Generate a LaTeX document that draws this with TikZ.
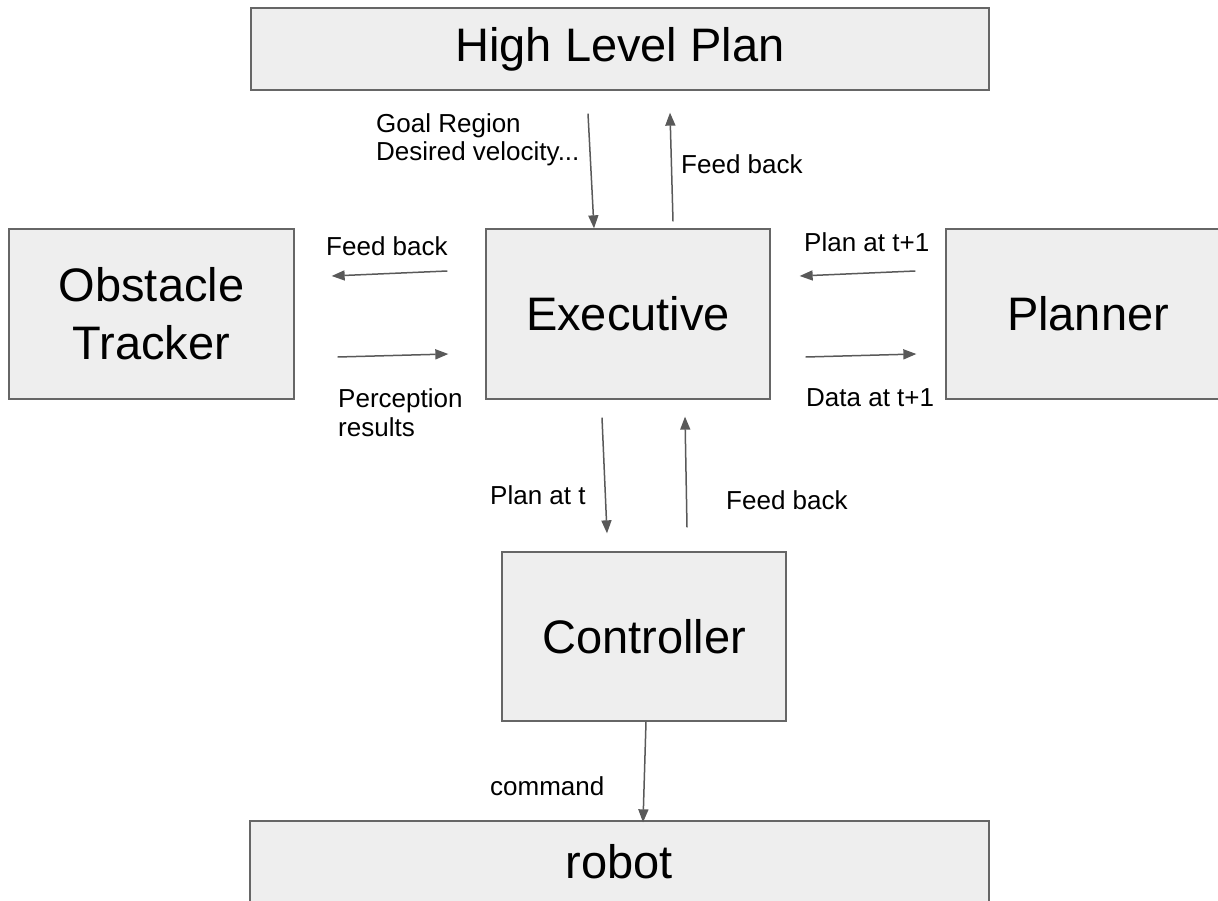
\documentclass[tikz,border=0pt]{standalone}
\usepackage{fontspec}
\setmainfont{Liberation Sans}
\usetikzlibrary{arrows.meta,calc}
\definecolor{boxfill}{HTML}{EEEEEE}
\definecolor{boxline}{HTML}{666666}
\definecolor{arrowline}{HTML}{595959}
\tikzset{
  block/.style={draw=boxline, fill=boxfill, line width=1.3pt, inner sep=0pt,
                align=center, font=\fontsize{47}{58}\selectfont},
  flow/.style={draw=arrowline, line width=1.5pt, -{Triangle[length=13pt,width=10pt]}},
  lbl/.style={anchor=base west, inner sep=0pt, align=left,
              font=\fontsize{26}{28.5}\selectfont},
}
\begin{document}
\begin{tikzpicture}[x=1pt,y=-1pt]
\useasboundingbox (0,0) rectangle (1218,901);
\clip (0,0) rectangle (1218,901);

% blocks
\node[block, minimum width=738pt, minimum height=82pt]  (hlp)   at (620,49)    {High Level Plan};
\node[block, minimum width=285pt, minimum height=170pt] (obst)  at (151.5,314) {Obstacle\\Tracker};
\node[block, minimum width=284pt, minimum height=170pt] (exec)  at (628,314)   {Executive};
\node[block, minimum width=284pt, minimum height=170pt] (plan)  at (1088,314)  {Planner};
\node[block, minimum width=284pt, minimum height=169pt] (ctrl)  at (644,636.5) {Controller};
\node[block, minimum width=739pt, minimum height=82pt]  (robot) at (619.5,862)  {robot};

% connectors
\draw[flow] ($(hlp.south)+(-32,23)$)  -- ($(exec.north)+(-34,0)$);
\draw[flow] ($(exec.north)+(45,-7)$)  -- ($(hlp.south)+(50,22)$);
\draw[flow] ($(exec.west)+(-38,-43)$) -- ($(obst.east)+(37,-38)$);
\draw[flow] ($(obst.east)+(43,43)$)   -- ($(exec.west)+(-37,40)$);
\draw[flow] ($(plan.west)+(-30,-43)$) -- ($(exec.east)+(29,-38)$);
\draw[flow] ($(exec.east)+(35,43)$)   -- ($(plan.west)+(-29,40)$);
\draw[flow] ($(exec.south)+(-26,18)$) -- ($(ctrl.north)+(-37,-18)$);
\draw[flow] ($(ctrl.north)+(43,-24)$) -- ($(exec.south)+(57,17)$);
\draw[flow] ($(ctrl.south)+(2,0)$)    -- ($(robot.north)+(23.5,2)$);

% labels (base anchor of a two-line label sits on its last line)
\node[lbl] (lgoal) at (376,161) {Goal Region\\Desired velocity...};
\node[lbl] (lfbh)  at (681,174) {Feed back};
\node[lbl] (lfbo)  at (326,256) {Feed back};
\node[lbl] (lperc) at (338,436) {Perception\\results};
\node[lbl] (lpt1)  at (804,252) {Plan at t+1};
\node[lbl] (ldt1)  at (806,406) {Data at t+1};
\node[lbl] (lpt)   at (490,504) {Plan at t};
\node[lbl] (lfbc)  at (726,509) {Feed back};
\node[lbl] (lcmd)  at (490,795) {command};
\end{tikzpicture}
\end{document}
